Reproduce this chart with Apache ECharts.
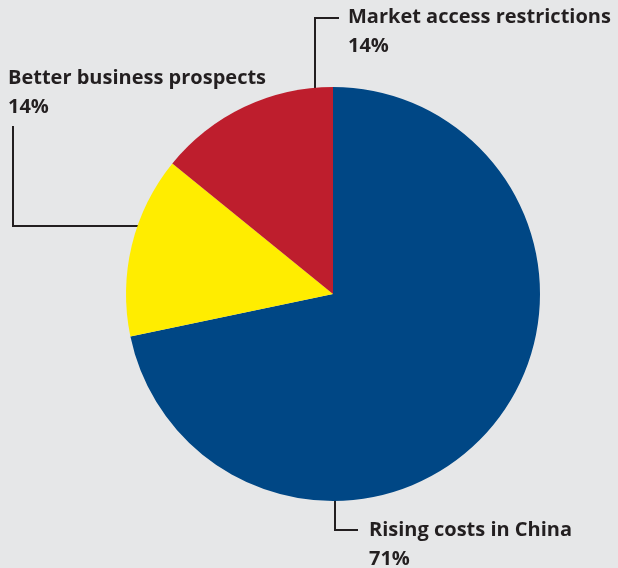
<!DOCTYPE html>
<html>
<head>
<meta charset="utf-8">
<script src="https://cdn.jsdelivr.net/npm/echarts@6/dist/echarts.min.js"></script>
<style>
  html, body { margin: 0; padding: 0; background: #e6e7e8; }
  #chart { width: 618px; height: 568px; }
</style>
</head>
<body>
<div id="chart"></div>
<script>
// Reasons for relocating production, share of respondents (%)
const categories = ['Rising costs in China', 'Better business prospects', 'Market access restrictions'];
const shares = [71, 14, 14];
const colors = ['#004785', '#ffed00', '#be1e2d'];

// Elbow callouts: anchor inside the slice, corner, end of line, text box top-left
const callouts = [
  { anchor: [335, 433], corner: [335, 530], end: [358, 530], text: [369, 516] },
  { anchor: [152, 226], corner: [13, 226], end: [13, 126], text: [8, 64] },
  { anchor: [315, 115], corner: [315, 18], end: [339, 18], text: [348, 3] }
];

const chart = echarts.init(document.getElementById('chart'), null, { renderer: 'canvas' });

const textStyle = { fontFamily: 'Open Sans', fontWeight: 'bold', fontSize: 20, color: '#231f20', lineHeight: 29 };

chart.setOption({
  backgroundColor: '#e6e7e8',
  animation: false,
  series: [{
    type: 'pie',
    center: [333, 294],
    radius: 207,
    startAngle: 90,
    clockwise: true,
    data: categories.map((name, i) => ({
      name: name,
      value: shares[i],
      itemStyle: { color: colors[i] }
    })),
    label: {
      show: true,
      position: 'outside',
      overflow: 'none',
      formatter: p => '{n|' + p.name + '}\n{v|' + p.value + '%}',
      rich: { n: textStyle, v: textStyle }
    },
    labelLine: {
      show: true,
      lineStyle: { color: '#231f20', width: 2 }
    },
    labelLayout: params => {
      const c = callouts[params.dataIndex];
      return {
        x: c.text[0],
        y: c.text[1],
        align: 'left',
        verticalAlign: 'top',
        labelLinePoints: [c.anchor, c.corner, c.end]
      };
    },
    emphasis: { disabled: true }
  }]
});
</script>
</body>
</html>
